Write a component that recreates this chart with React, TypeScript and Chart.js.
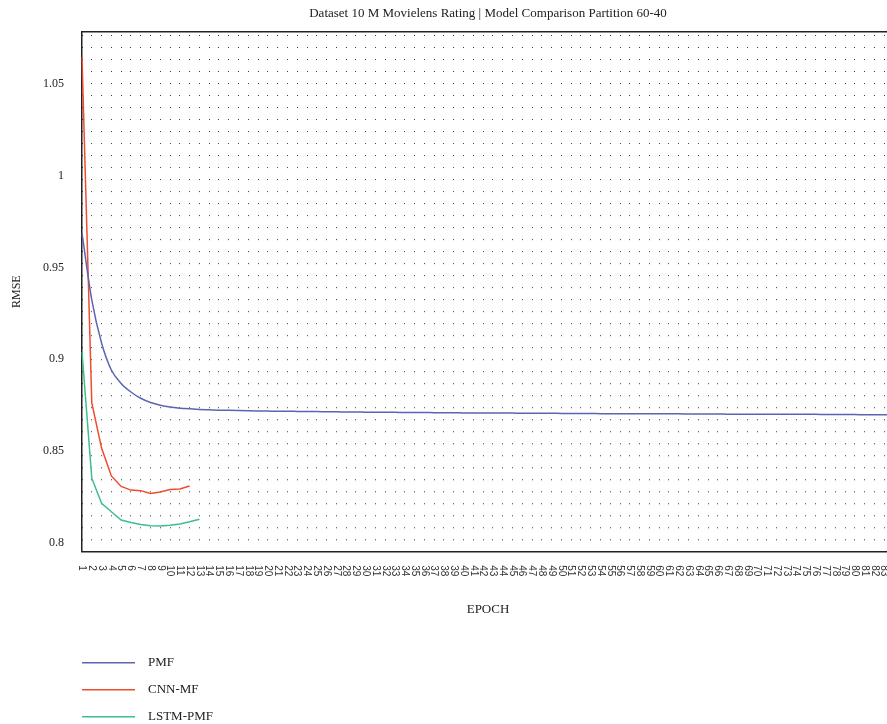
import { useEffect, useRef } from 'react';
import { Chart, registerables } from 'chart.js';

Chart.register(...registerables);

const TITLE = 'Dataset 10 M Movielens Rating | Model Comparison Partition 60-40';
const X_TITLE = 'EPOCH';
const Y_TITLE = 'RMSE';

const EPOCHS = [
  '1', '2', '3', '4', '5', '6', '7', '8', '9', '10',
  '11', '12', '13', '14', '15', '16', '17', '18', '19', '20',
  '21', '22', '23', '24', '25', '26', '27', '28', '29', '30',
  '31', '32', '33', '34', '35', '36', '37', '38', '39', '40',
  '41', '42', '43', '44', '45', '46', '47', '48', '49', '50',
  '51', '52', '53', '54', '55', '56', '57', '58', '59', '60',
  '61', '62', '63', '64', '65', '66', '67', '68', '69', '70',
  '71', '72', '73', '74', '75', '76', '77', '78', '79', '80',
  '81', '82', '83', '84',
];

const PMF = [
  0.9687, 0.9323, 0.9088, 0.8941, 0.8868, 0.8821, 0.8787, 0.8764, 0.8749, 0.8739,
  0.8733, 0.8729, 0.8726, 0.8724, 0.8722, 0.8721, 0.8720, 0.8719, 0.8718, 0.8717,
  0.8716, 0.8716, 0.8715, 0.8714, 0.8714, 0.8713, 0.8713, 0.8712, 0.8712, 0.8711,
  0.8711, 0.8710, 0.8710, 0.8709, 0.8709, 0.8709, 0.8708, 0.8708, 0.8708, 0.8707,
  0.8707, 0.8707, 0.8706, 0.8706, 0.8706, 0.8705, 0.8705, 0.8705, 0.8705, 0.8704,
  0.8704, 0.8704, 0.8704, 0.8703, 0.8703, 0.8703, 0.8703, 0.8702, 0.8702, 0.8702,
  0.8702, 0.8702, 0.8701, 0.8701, 0.8701, 0.8701, 0.8700, 0.8700, 0.8700, 0.8700,
  0.8700, 0.8700, 0.8699, 0.8699, 0.8699, 0.8699, 0.8698, 0.8698, 0.8698, 0.8698,
  0.8697, 0.8697, 0.8697, 0.8697,
];

const CNN_MF = [
  1.0647, 0.8761, 0.8515, 0.8363, 0.8306, 0.8286, 0.8283, 0.8268, 0.8276, 0.8289,
  0.8292, 0.8308,
];

const LSTM_PMF = [
  0.9039, 0.8351, 0.8214, 0.8168, 0.8123, 0.8109, 0.8098, 0.8092, 0.8090, 0.8094,
  0.8101, 0.8113, 0.8127,
];

const SERIES_NAMES = ['PMF', 'CNN-MF', 'LSTM-PMF'];
const SERIES_COLORS = ['#5a65b3', '#f04b2f', '#3dbf8c'];
const Y_TICKS = [0.8, 0.85, 0.9, 0.95, 1, 1.05];
const Y_MIN = 0.795;
const Y_MAX = 1.0786;

const SERIF = '"Liberation Serif", "Times New Roman", serif';
const SANS = '"Liberation Sans", Arial, sans-serif';
const TEXT = '#222';

const decorPlugin = {
  id: 'decor',
  afterDraw(chart: any) {
    const { ctx, chartArea: a } = chart;
    const xs = chart.scales.x;
    ctx.save();
    // top frame line
    ctx.strokeStyle = '#222';
    ctx.lineWidth = 1.5;
    ctx.beginPath();
    ctx.moveTo(a.left - 0.75, a.top);
    ctx.lineTo(a.right + 2, a.top);
    ctx.stroke();

    // x tick labels, rotated clockwise
    ctx.fillStyle = '#333';
    ctx.font = '10px ' + SANS;
    ctx.textAlign = 'left';
    ctx.textBaseline = 'middle';
    xs.ticks.forEach((t: any, i: number) => {
      const x = xs.getPixelForTick(i);
      ctx.save();
      ctx.translate(x, xs.top + 13.5);
      ctx.rotate(Math.PI / 2);
      ctx.fillText(String(xs.getLabelForValue(t.value)), 0, 0);
      ctx.restore();
    });

    // legend, stacked vertically
    const H = chart.height;
    chart.data.datasets.forEach((ds: any, i: number) => {
      const y = H - 61.3 + i * 27;
      ctx.strokeStyle = ds.borderColor;
      ctx.lineWidth = 1.5;
      ctx.beginPath();
      ctx.moveTo(a.left, y);
      ctx.lineTo(a.left + 53, y);
      ctx.stroke();
      ctx.fillStyle = TEXT;
      ctx.font = '13px ' + SERIF;
      ctx.textAlign = 'left';
      ctx.textBaseline = 'middle';
      ctx.fillText(ds.label, a.left + 66, y);
    });
    ctx.restore();
  },
};

export default function App() {
  const ref = useRef<HTMLCanvasElement | null>(null);

  useEffect(() => {
    if (!ref.current) return;
    const chart = new Chart(ref.current, {
      type: 'line',
      data: {
        labels: EPOCHS,
        datasets: [
          {
            label: SERIES_NAMES[0],
            data: PMF,
            borderColor: SERIES_COLORS[0],
            borderWidth: 1.5,
            pointRadius: 0,
            cubicInterpolationMode: 'monotone',
            fill: false,
          },
          {
            label: SERIES_NAMES[1],
            data: CNN_MF,
            borderColor: SERIES_COLORS[1],
            borderWidth: 1.5,
            pointRadius: 0,
            tension: 0,
            fill: false,
          },
          {
            label: SERIES_NAMES[2],
            data: LSTM_PMF,
            borderColor: SERIES_COLORS[2],
            borderWidth: 1.5,
            pointRadius: 0,
            tension: 0,
            fill: false,
          },
        ],
      },
      options: {
        animation: false,
        responsive: false,
        devicePixelRatio: 1,
        layout: { padding: { left: 0, right: 0, top: 0, bottom: 97.3 } },
        plugins: {
          legend: { display: false },
          tooltip: { enabled: false },
          title: {
            display: true,
            fullSize: false,
            text: TITLE,
            color: TEXT,
            font: { family: SERIF, size: 13, weight: 'normal' },
            padding: { top: 5.5, bottom: 10.6 },
          },
        },
        scales: {
          x: {
            type: 'category',
            offset: false,
            grid: { display: true, color: '#3a3a3a', lineWidth: 1, drawTicks: false, offset: false },
            border: { display: true, color: '#222', width: 1.5, dash: [1, 11.007], dashOffset: 8.7 },
            ticks: { display: false, autoSkip: false },
            title: {
              display: true,
              text: X_TITLE,
              color: TEXT,
              font: { family: SERIF, size: 13, weight: 'normal' },
              padding: { top: 0, bottom: 8.9 },
            },
            afterFit: (s: any) => {
              s.height = 75;
              s.paddingLeft = 0;
              s.paddingRight = 0;
            },
          },
          y: {
            min: Y_MIN,
            max: Y_MAX,
            grid: { display: false, drawTicks: false },
            border: { display: true, color: '#222', width: 1.5 },
            ticks: {
              padding: 18,
              color: TEXT,
              font: { family: SERIF, size: 12 },
              callback: (v: any) => String(v),
            },
            afterBuildTicks: (s: any) => {
              s.ticks = Y_TICKS.map((v) => ({ value: v }));
            },
            title: {
              display: true,
              text: Y_TITLE,
              color: TEXT,
              font: { family: SERIF, size: 12, weight: 'normal' },
              padding: { top: 10, bottom: 0 },
            },
            afterFit: (s: any) => {
              s.width = 82;
            },
          },
        },
      },
      plugins: [decorPlugin],
    } as any);
    return () => chart.destroy();
  }, []);

  return (
    <div
      style={{
        position: 'fixed',
        left: 0,
        top: 0,
        width: 887,
        height: 724,
        overflow: 'hidden',
      }}
    >
      <canvas
        ref={ref}
        width={894}
        height={724}
        style={{ display: 'block', width: 894, height: 724 }}
      />
    </div>
  );
}
